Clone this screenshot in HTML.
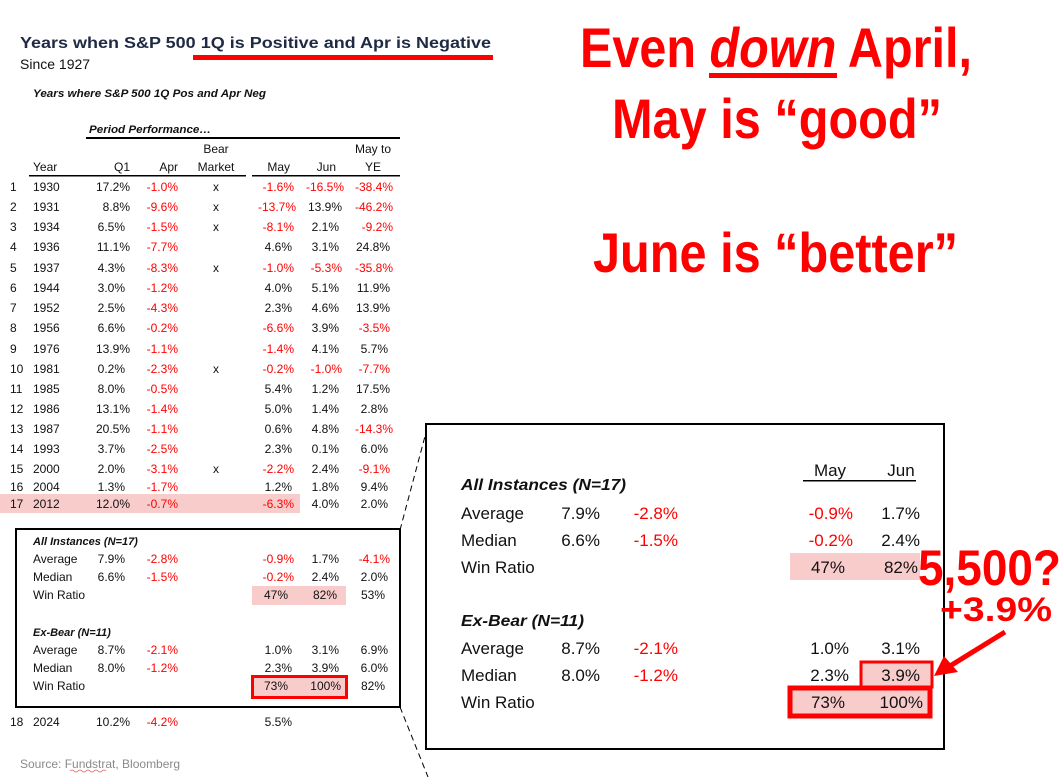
<!DOCTYPE html>
<html><head><meta charset="utf-8"><style>
html,body{margin:0;padding:0;background:#fff;}
svg{display:block;}
.t{font-family:"Liberation Sans Narrow","Liberation Sans",sans-serif;font-size:12px;fill:#111;}
.r{fill:#ff0000;}
.e{text-anchor:end;}
.m{text-anchor:middle;}
.big{font-family:"Liberation Sans",sans-serif;font-weight:bold;fill:#ff0000;}
.p{font-family:"Liberation Sans Narrow","Liberation Sans",sans-serif;font-size:17px;fill:#111;}
</style></head><body>
<svg width="1061" height="777" viewBox="0 0 1061 777" xmlns="http://www.w3.org/2000/svg">
<rect width="1061" height="777" fill="#fff"/>
<!-- titles -->
<text x="20" y="48" font-family="Liberation Sans,sans-serif" font-weight="bold" font-size="16" fill="#1f2a44" textLength="471" lengthAdjust="spacingAndGlyphs">Years when S&amp;P 500 1Q is Positive and Apr is Negative</text>
<rect x="193" y="55" width="300" height="5" fill="#ff0000"/>
<text x="20" y="69" font-family="Liberation Sans,sans-serif" font-size="14" fill="#111">Since 1927</text>
<text x="33" y="97" font-family="Liberation Sans,sans-serif" font-weight="bold" font-style="italic" font-size="11" fill="#111" textLength="233" lengthAdjust="spacingAndGlyphs">Years where S&amp;P 500 1Q Pos and Apr Neg</text>
<text x="89" y="133" font-family="Liberation Sans,sans-serif" font-weight="bold" font-style="italic" font-size="11" fill="#111" textLength="122" lengthAdjust="spacingAndGlyphs">Period Performance…</text>
<rect x="86" y="137" width="314" height="2" fill="#000"/>
<g class="t">
<text x="216" y="153" class="m">Bear</text>
<text x="373" y="153" class="m">May to</text>
<text x="33" y="171">Year</text>
<text x="130" y="171" class="e">Q1</text>
<text x="178" y="171" class="e">Apr</text>
<text x="216" y="171" class="m">Market</text>
<text x="290" y="171" class="e">May</text>
<text x="336" y="171" class="e">Jun</text>
<text x="373" y="171" class="m">YE</text>
</g>
<rect x="29" y="175" width="217" height="1.5" fill="#000"/>
<rect x="252" y="175" width="148" height="1.5" fill="#000"/>
<rect x="0" y="494" width="300" height="19" fill="#f9cccc"/>
<g class="t" id="rows"></g>
<!-- summary box -->
<rect x="252" y="586" width="94" height="19" fill="#f9cccc"/>
<rect x="252.5" y="676.5" width="94" height="21" fill="#f9cccc" stroke="#ff0000" stroke-width="3"/>
<rect x="16" y="529" width="384" height="178" fill="none" stroke="#000" stroke-width="2"/>
<g class="t">
<text x="33" y="545" font-weight="bold" font-style="italic" font-family="Liberation Sans,sans-serif" font-size="11">All Instances (N=17)</text>
<text x="33" y="563">Average</text><text x="125" y="563" class="e">7.9%</text><text x="178" y="563" class="e r">-2.8%</text><text x="294" y="563" class="e r">-0.9%</text><text x="339" y="563" class="e">1.7%</text><text x="390" y="563" class="e r">-4.1%</text>
<text x="33" y="581">Median</text><text x="125" y="581" class="e">6.6%</text><text x="178" y="581" class="e r">-1.5%</text><text x="294" y="581" class="e r">-0.2%</text><text x="339" y="581" class="e">2.4%</text><text x="388" y="581" class="e">2.0%</text>
<text x="33" y="599">Win Ratio</text><text x="288" y="599" class="e">47%</text><text x="337" y="599" class="e">82%</text><text x="385" y="599" class="e">53%</text>
<text x="33" y="636" font-weight="bold" font-style="italic" font-family="Liberation Sans,sans-serif" font-size="11">Ex-Bear (N=11)</text>
<text x="33" y="654">Average</text><text x="125" y="654" class="e">8.7%</text><text x="178" y="654" class="e r">-2.1%</text><text x="292" y="654" class="e">1.0%</text><text x="339" y="654" class="e">3.1%</text><text x="388" y="654" class="e">6.9%</text>
<text x="33" y="672">Median</text><text x="125" y="672" class="e">8.0%</text><text x="178" y="672" class="e r">-1.2%</text><text x="292" y="672" class="e">2.3%</text><text x="339" y="672" class="e">3.9%</text><text x="388" y="672" class="e">6.0%</text>
<text x="33" y="690">Win Ratio</text><text x="288" y="690" class="e">73%</text><text x="341" y="690" class="e">100%</text><text x="385" y="690" class="e">82%</text>
<text x="10" y="726">18</text><text x="33" y="726">2024</text><text x="130" y="726" class="e">10.2%</text><text x="178" y="726" class="e r">-4.2%</text><text x="292" y="726" class="e">5.5%</text>
</g>
<text x="20" y="768" font-family="Liberation Sans,sans-serif" font-size="12" fill="#8a8a8a">Source: Fundstrat, Bloomberg</text>
<path d="M70 771 q2 -2 4 0 t4 0 t4 0 t4 0 t4 0 t4 0 t4 0 t4 0 t4 0" stroke="#e06060" stroke-width="0.8" fill="none"/>
<line x1="400" y1="530" x2="428" y2="425" stroke="#000" stroke-dasharray="6,4"/>
<line x1="400" y1="707" x2="428" y2="777" stroke="#000" stroke-dasharray="6,4"/>
<!-- right panel -->
<rect x="426" y="424" width="518" height="325" fill="#fff" stroke="#000" stroke-width="2"/>
<rect x="790" y="553" width="130" height="27" fill="#f9cccc"/>
<rect x="790" y="688" width="140" height="28" fill="#f9cccc" stroke="#ff0000" stroke-width="5"/>
<rect x="861" y="662" width="71" height="25" fill="#f9cccc" stroke="#ff0000" stroke-width="3"/>
<g class="p">
<text x="830" y="476" class="m">May</text><text x="901" y="476" class="m">Jun</text>
<text x="461" y="490" font-weight="bold" font-style="italic" font-family="Liberation Sans,sans-serif" font-size="16" textLength="165" lengthAdjust="spacingAndGlyphs">All Instances (N=17)</text>
<text x="461" y="519">Average</text><text x="600" y="519" class="e">7.9%</text><text x="678" y="519" class="e r">-2.8%</text><text x="853" y="519" class="e r">-0.9%</text><text x="920" y="519" class="e">1.7%</text>
<text x="461" y="546">Median</text><text x="600" y="546" class="e">6.6%</text><text x="678" y="546" class="e r">-1.5%</text><text x="853" y="546" class="e r">-0.2%</text><text x="920" y="546" class="e">2.4%</text>
<text x="461" y="573">Win Ratio</text><text x="845" y="573" class="e">47%</text><text x="918" y="573" class="e">82%</text>
<text x="461" y="626" font-weight="bold" font-style="italic" font-family="Liberation Sans,sans-serif" font-size="16" textLength="123" lengthAdjust="spacingAndGlyphs">Ex-Bear (N=11)</text>
<text x="461" y="654">Average</text><text x="600" y="654" class="e">8.7%</text><text x="678" y="654" class="e r">-2.1%</text><text x="849" y="654" class="e">1.0%</text><text x="920" y="654" class="e">3.1%</text>
<text x="461" y="681">Median</text><text x="600" y="681" class="e">8.0%</text><text x="678" y="681" class="e r">-1.2%</text><text x="849" y="681" class="e">2.3%</text><text x="920" y="681" class="e">3.9%</text>
<text x="461" y="708">Win Ratio</text><text x="845" y="708" class="e">73%</text><text x="923" y="708" class="e">100%</text>
</g>
<rect x="803" y="480" width="113" height="1.5" fill="#000"/>
<text x="918" y="585" class="big" font-size="50" textLength="143" lengthAdjust="spacingAndGlyphs">5,500?</text>
<text x="940" y="621" class="big" font-size="34" textLength="112" lengthAdjust="spacingAndGlyphs">+3.9%</text>
<line x1="1005" y1="632" x2="950" y2="666" stroke="#ff0000" stroke-width="5"/>
<polygon points="934,676 944,656 958,672" fill="#ff0000"/>
<!-- big headline -->
<text x="580" y="67" class="big" font-size="56" textLength="392" lengthAdjust="spacingAndGlyphs">Even <tspan font-style="italic">down</tspan> April,</text>
<rect x="709" y="73" width="128" height="5" fill="#ff0000"/>
<text x="612" y="138" class="big" font-size="56" textLength="330" lengthAdjust="spacingAndGlyphs">May is “good”</text>
<text x="593" y="272" class="big" font-size="56" textLength="365" lengthAdjust="spacingAndGlyphs">June is “better”</text>
<g class="t">
<text x="10" y="191">1</text><text x="33" y="191">1930</text><text x="130" y="191" class="e">17.2%</text><text x="178" y="191" class="e r">-1.0%</text><text x="216" y="191" class="m">x</text><text x="294" y="191" class="e r">-1.6%</text><text x="344" y="191" class="e r">-16.5%</text><text x="393" y="191" class="e r">-38.4%</text>
<text x="10" y="211">2</text><text x="33" y="211">1931</text><text x="130" y="211" class="e">8.8%</text><text x="178" y="211" class="e r">-9.6%</text><text x="216" y="211" class="m">x</text><text x="296" y="211" class="e r">-13.7%</text><text x="342" y="211" class="e">13.9%</text><text x="393" y="211" class="e r">-46.2%</text>
<text x="10" y="231">3</text><text x="33" y="231">1934</text><text x="125" y="231" class="e">6.5%</text><text x="178" y="231" class="e r">-1.5%</text><text x="216" y="231" class="m">x</text><text x="294" y="231" class="e r">-8.1%</text><text x="339" y="231" class="e">2.1%</text><text x="393" y="231" class="e r">-9.2%</text>
<text x="10" y="251">4</text><text x="33" y="251">1936</text><text x="130" y="251" class="e">11.1%</text><text x="178" y="251" class="e r">-7.7%</text><text x="292" y="251" class="e">4.6%</text><text x="339" y="251" class="e">3.1%</text><text x="390" y="251" class="e">24.8%</text>
<text x="10" y="272">5</text><text x="33" y="272">1937</text><text x="125" y="272" class="e">4.3%</text><text x="178" y="272" class="e r">-8.3%</text><text x="216" y="272" class="m">x</text><text x="294" y="272" class="e r">-1.0%</text><text x="342" y="272" class="e r">-5.3%</text><text x="393" y="272" class="e r">-35.8%</text>
<text x="10" y="292">6</text><text x="33" y="292">1944</text><text x="125" y="292" class="e">3.0%</text><text x="178" y="292" class="e r">-1.2%</text><text x="292" y="292" class="e">4.0%</text><text x="339" y="292" class="e">5.1%</text><text x="390" y="292" class="e">11.9%</text>
<text x="10" y="312">7</text><text x="33" y="312">1952</text><text x="125" y="312" class="e">2.5%</text><text x="178" y="312" class="e r">-4.3%</text><text x="292" y="312" class="e">2.3%</text><text x="339" y="312" class="e">4.6%</text><text x="390" y="312" class="e">13.9%</text>
<text x="10" y="332">8</text><text x="33" y="332">1956</text><text x="125" y="332" class="e">6.6%</text><text x="178" y="332" class="e r">-0.2%</text><text x="294" y="332" class="e r">-6.6%</text><text x="339" y="332" class="e">3.9%</text><text x="390" y="332" class="e r">-3.5%</text>
<text x="10" y="353">9</text><text x="33" y="353">1976</text><text x="130" y="353" class="e">13.9%</text><text x="178" y="353" class="e r">-1.1%</text><text x="294" y="353" class="e r">-1.4%</text><text x="339" y="353" class="e">4.1%</text><text x="388" y="353" class="e">5.7%</text>
<text x="10" y="373">10</text><text x="33" y="373">1981</text><text x="125" y="373" class="e">0.2%</text><text x="178" y="373" class="e r">-2.3%</text><text x="216" y="373" class="m">x</text><text x="294" y="373" class="e r">-0.2%</text><text x="342" y="373" class="e r">-1.0%</text><text x="390" y="373" class="e r">-7.7%</text>
<text x="10" y="393">11</text><text x="33" y="393">1985</text><text x="125" y="393" class="e">8.0%</text><text x="178" y="393" class="e r">-0.5%</text><text x="292" y="393" class="e">5.4%</text><text x="339" y="393" class="e">1.2%</text><text x="390" y="393" class="e">17.5%</text>
<text x="10" y="413">12</text><text x="33" y="413">1986</text><text x="130" y="413" class="e">13.1%</text><text x="178" y="413" class="e r">-1.4%</text><text x="292" y="413" class="e">5.0%</text><text x="339" y="413" class="e">1.4%</text><text x="388" y="413" class="e">2.8%</text>
<text x="10" y="433">13</text><text x="33" y="433">1987</text><text x="130" y="433" class="e">20.5%</text><text x="178" y="433" class="e r">-1.1%</text><text x="292" y="433" class="e">0.6%</text><text x="339" y="433" class="e">4.8%</text><text x="393" y="433" class="e r">-14.3%</text>
<text x="10" y="453">14</text><text x="33" y="453">1993</text><text x="125" y="453" class="e">3.7%</text><text x="178" y="453" class="e r">-2.5%</text><text x="292" y="453" class="e">2.3%</text><text x="339" y="453" class="e">0.1%</text><text x="388" y="453" class="e">6.0%</text>
<text x="10" y="473">15</text><text x="33" y="473">2000</text><text x="125" y="473" class="e">2.0%</text><text x="178" y="473" class="e r">-3.1%</text><text x="216" y="473" class="m">x</text><text x="294" y="473" class="e r">-2.2%</text><text x="339" y="473" class="e">2.4%</text><text x="390" y="473" class="e r">-9.1%</text>
<text x="10" y="491">16</text><text x="33" y="491">2004</text><text x="125" y="491" class="e">1.3%</text><text x="178" y="491" class="e r">-1.7%</text><text x="292" y="491" class="e">1.2%</text><text x="339" y="491" class="e">1.8%</text><text x="388" y="491" class="e">9.4%</text>
<text x="10" y="508">17</text><text x="33" y="508">2012</text><text x="130" y="508" class="e">12.0%</text><text x="178" y="508" class="e r">-0.7%</text><text x="294" y="508" class="e r">-6.3%</text><text x="339" y="508" class="e">4.0%</text><text x="388" y="508" class="e">2.0%</text>
</g>
</svg>
</body></html>
